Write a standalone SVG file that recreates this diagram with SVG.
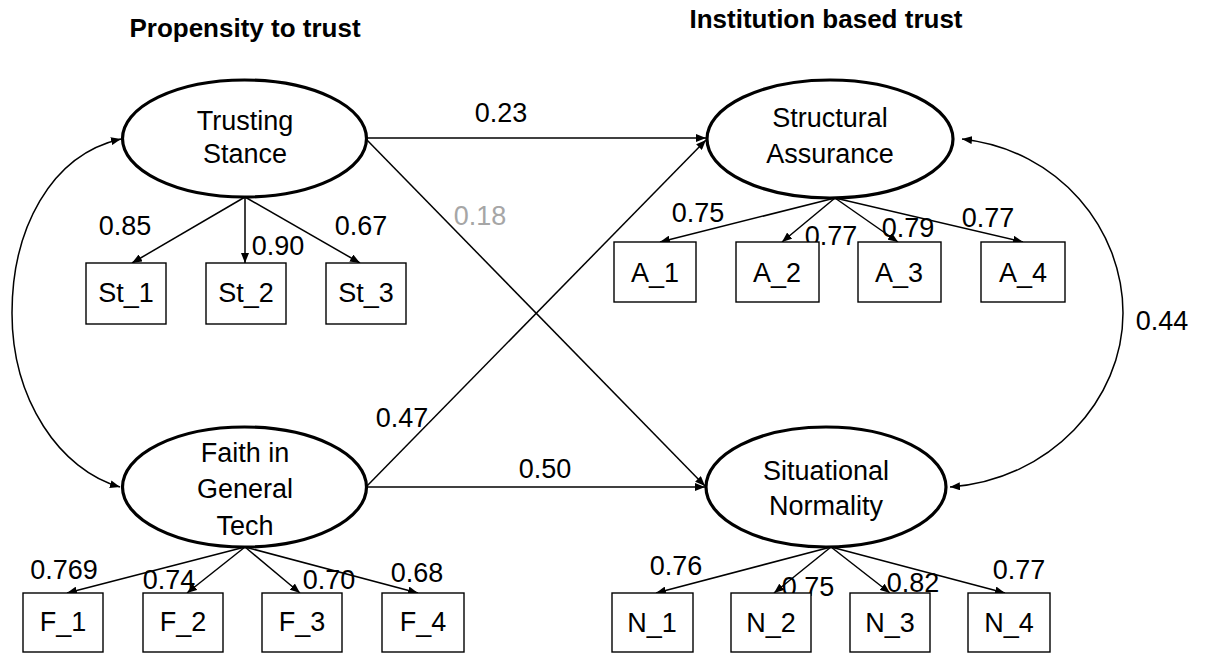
<svg xmlns="http://www.w3.org/2000/svg" width="1206" height="655" viewBox="0 0 1206 655">
  <style>
    text { font-family: "Liberation Sans", Arial, sans-serif; font-size: 27px; fill: #000; text-anchor: middle; }
    .title { font-weight: bold; font-size: 26px; }
    .gray { fill: #a6a6a6; }
    .latent { fill: #fff; stroke: #000; stroke-width: 3.2; }
    .item { fill: #fff; stroke: #000; stroke-width: 1.4; }
    .edge { fill: none; stroke: #000; stroke-width: 1.5; marker-end: url(#arrow); }
    .cov { fill: none; stroke: #000; stroke-width: 1.5; marker-start: url(#arrow); marker-end: url(#arrow); }
  </style>
  <defs>
    <marker id="arrow" viewBox="0 0 10 8" refX="10" refY="4" markerWidth="10" markerHeight="8" markerUnits="userSpaceOnUse" orient="auto-start-reverse">
      <path d="M0,0 L10,4 L0,8 z" fill="#000"/>
    </marker>
  </defs>

  <!-- section headings -->
  <text class="title" x="245" y="37">Propensity to trust</text>
  <text class="title" x="826" y="28">Institution based trust</text>

  <!-- connectors -->
  <g id="connectors">
    <!-- structural paths -->
    <line class="edge" x1="366" y1="138" x2="706" y2="138"/>
    <line class="edge" x1="366" y1="139" x2="705" y2="486"/>
    <line class="edge" x1="366" y1="487" x2="706" y2="140"/>
    <line class="edge" x1="366" y1="487" x2="705" y2="487"/>
    <!-- covariances -->
    <path class="cov" d="M121,139 C50,155 12,230 12,313 C12,400 60,470 120,487"/>
    <path class="cov" d="M962,139 C1060,150 1123,230 1123,313 C1123,400 1050,480 950,487"/>
    <!-- Trusting Stance loadings -->
    <line class="edge" x1="245" y1="197" x2="132" y2="263"/>
    <line class="edge" x1="245" y1="197" x2="245" y2="263"/>
    <line class="edge" x1="245" y1="197" x2="360" y2="263"/>
    <!-- Faith in General Tech loadings -->
    <line class="edge" x1="245" y1="547" x2="67" y2="593"/>
    <line class="edge" x1="245" y1="547" x2="187" y2="593"/>
    <line class="edge" x1="245" y1="547" x2="300" y2="593"/>
    <line class="edge" x1="245" y1="547" x2="418" y2="593"/>
    <!-- Structural Assurance loadings -->
    <line class="edge" x1="835" y1="198" x2="660" y2="242"/>
    <line class="edge" x1="835" y1="198" x2="782" y2="242"/>
    <line class="edge" x1="835" y1="198" x2="898" y2="242"/>
    <line class="edge" x1="835" y1="198" x2="1023" y2="242"/>
    <!-- Situational Normality loadings -->
    <line class="edge" x1="831" y1="547" x2="656" y2="593"/>
    <line class="edge" x1="831" y1="547" x2="774" y2="593"/>
    <line class="edge" x1="831" y1="547" x2="890" y2="593"/>
    <line class="edge" x1="831" y1="547" x2="1005" y2="593"/>
  </g>

  <!-- path coefficients -->
  <g id="coefficients">
    <text x="501" y="122">0.23</text>
    <text class="gray" x="480" y="225">0.18</text>
    <text x="402" y="427">0.47</text>
    <text x="545" y="478">0.50</text>
    <text x="1162" y="330">0.44</text>
    <text x="125" y="235">0.85</text>
    <text x="278" y="255">0.90</text>
    <text x="361" y="235">0.67</text>
    <text x="64" y="579">0.769</text>
    <text x="169" y="589">0.74</text>
    <text x="329" y="589">0.70</text>
    <text x="417" y="582">0.68</text>
    <text x="698" y="222">0.75</text>
    <text x="831" y="245">0.77</text>
    <text x="908" y="237">0.79</text>
    <text x="988" y="227">0.77</text>
    <text x="676" y="575">0.76</text>
    <text x="808" y="596">0.75</text>
    <text x="913" y="592">0.82</text>
    <text x="1019" y="579">0.77</text>
  </g>

  <!-- latent constructs -->
  <g id="trusting-stance">
    <ellipse class="latent" cx="244.5" cy="138.5" rx="122" ry="58.5"/>
    <text x="245" y="130">Trusting</text>
    <text x="245" y="163">Stance</text>
  </g>
  <g id="faith-general-tech">
    <ellipse class="latent" cx="244.5" cy="487" rx="122" ry="60"/>
    <text x="245" y="462">Faith in</text>
    <text x="245" y="498">General</text>
    <text x="245" y="535">Tech</text>
  </g>
  <g id="structural-assurance">
    <ellipse class="latent" cx="830" cy="139" rx="123" ry="59"/>
    <text x="830" y="127">Structural</text>
    <text x="830" y="163">Assurance</text>
  </g>
  <g id="situational-normality">
    <ellipse class="latent" cx="826" cy="487" rx="120" ry="60"/>
    <text x="826" y="480">Situational</text>
    <text x="826" y="515">Normality</text>
  </g>

  <!-- indicators -->
  <g id="st-1"><rect class="item" x="86" y="263" width="80" height="61"/><text x="126" y="302">St_1</text></g>
  <g id="st-2"><rect class="item" x="206" y="263" width="80" height="61"/><text x="246" y="302">St_2</text></g>
  <g id="st-3"><rect class="item" x="326" y="263" width="80" height="61"/><text x="366" y="302">St_3</text></g>

  <g id="a-1"><rect class="item" x="614" y="242" width="82" height="60"/><text x="655" y="282">A_1</text></g>
  <g id="a-2"><rect class="item" x="736" y="242" width="83" height="60"/><text x="777" y="282">A_2</text></g>
  <g id="a-3"><rect class="item" x="858" y="242" width="83" height="60"/><text x="899" y="282">A_3</text></g>
  <g id="a-4"><rect class="item" x="981" y="242" width="84" height="60"/><text x="1023" y="282">A_4</text></g>

  <g id="f-1"><rect class="item" x="23" y="593" width="80" height="59"/><text x="63" y="631">F_1</text></g>
  <g id="f-2"><rect class="item" x="143" y="593" width="80" height="59"/><text x="183" y="631">F_2</text></g>
  <g id="f-3"><rect class="item" x="262" y="593" width="80" height="59"/><text x="302" y="631">F_3</text></g>
  <g id="f-4"><rect class="item" x="382" y="593" width="82" height="59"/><text x="423" y="631">F_4</text></g>

  <g id="n-1"><rect class="item" x="612" y="593" width="81" height="59"/><text x="652" y="632">N_1</text></g>
  <g id="n-2"><rect class="item" x="731" y="593" width="80" height="59"/><text x="771" y="632">N_2</text></g>
  <g id="n-3"><rect class="item" x="850" y="593" width="80" height="59"/><text x="890" y="632">N_3</text></g>
  <g id="n-4"><rect class="item" x="968" y="593" width="82" height="59"/><text x="1009" y="632">N_4</text></g>
</svg>
